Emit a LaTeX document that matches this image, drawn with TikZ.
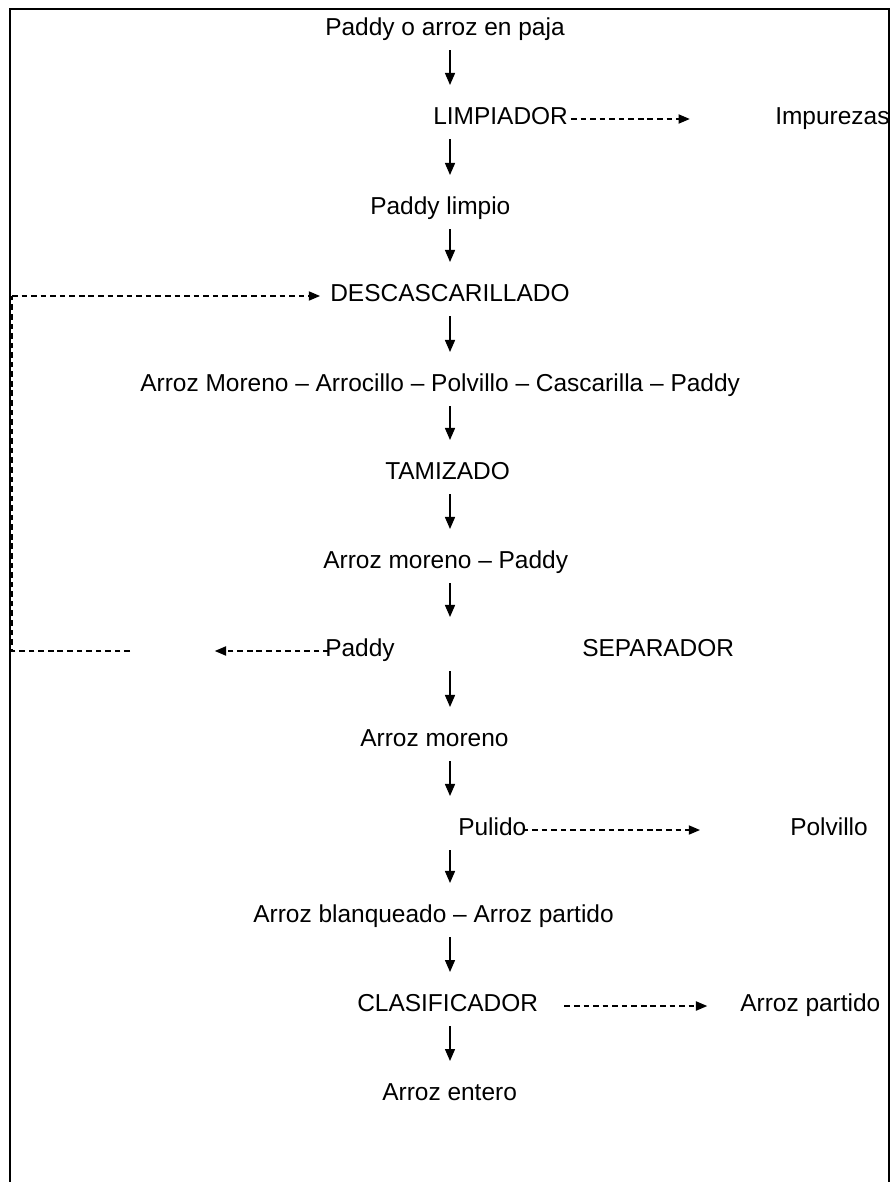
\documentclass[tikz,border=0pt]{standalone}
\usepackage{fontspec}
\setmainfont{Liberation Sans}
\usetikzlibrary{
		arrows.meta,
		positioning
	}
\tikzset{
		>={Triangle[length=3mm,width=2.5mm]},
		paso/.style={inner sep=0pt, anchor=west, text height=0.72em, text depth=0pt,
			font=\fontsize{17.4}{20}\selectfont},
		baja/.style={->, line width=1pt, shorten <=5mm, shorten >=8.5mm},
		retorno/.style={line width=0.9pt, dash pattern=on 4pt off 2.8pt},
		punta/.style={-{Triangle[length=2.8mm,width=2.3mm]}}
	}

\begin{document}
\begin{tikzpicture}[x=0.025cm, y=-0.025cm]
          \useasboundingbox (0,0) rectangle (895,1182);
          \draw[line width=1.6pt] (10,1182) |- (889,9) -- (889,1182);

          \coordinate (E) at (450,0);
          \coordinate (R1) at (130,651);
          \coordinate (R2) at (12,651);
          \coordinate (R3) at (12,296);

          \node[paso] (P1) at (325,30) {Paddy o arroz en paja};
          \node[paso] (P2) at (433,119) {LIMPIADOR};
          \node[paso] (I) at (775,119) {Impurezas};
          \node[paso] (P3) at (370,209) {Paddy limpio};
          \node[paso] (P4) at (330,296) {DESCASCARILLADO};
          \node[paso] (P5) at (140,386) {Arroz Moreno – Arrocillo – Polvillo – Cascarilla – Paddy};
          \node[paso] (P6) at (385,474) {TAMIZADO};
          \node[paso] (P7) at (323,563) {Arroz moreno – Paddy};
          \node[paso] (Pd) at (325,651) {Paddy};
          \node[paso] (S) at (582,651) {SEPARADOR};
          \node[paso] (P8) at (360,741) {Arroz moreno};
          \node[paso] (P9) at (458,830) {Pulido};
          \node[paso] (Po) at (790,830) {Polvillo};
          \node[paso] (P10) at (253,917) {Arroz blanqueado – Arroz partido};
          \node[paso] (P11) at (357,1006) {CLASIFICADOR};
          \node[paso] (Ap) at (740,1006) {Arroz partido};
          \node[paso] (P12) at (382,1095) {Arroz entero};

          \draw[baja] (P1 -| E) -- (P2 -| E);
          \draw[baja] (P2 -| E) -- (P3 -| E);
          \draw[baja] (P3 -| E) -- (P4 -| E);
          \draw[baja] (P4 -| E) -- (P5 -| E);
          \draw[baja] (P5 -| E) -- (P6 -| E);
          \draw[baja] (P6 -| E) -- (P7 -| E);
          \draw[baja] (P7 -| E) -- (S -| E);
          \draw[baja] (S -| E) -- (P8 -| E);
          \draw[baja] (P8 -| E) -- (P9 -| E);
          \draw[baja] (P9 -| E) -- (P10 -| E);
          \draw[baja] (P10 -| E) -- (P11 -| E);
          \draw[baja] (P11 -| E) -- (P12 -| E);

          % salidas laterales
          \draw[retorno, punta, shorten <=0.7mm, shorten >=21.3mm] (P2.east) -- (I.west);
          \draw[retorno, punta, shorten <=-1mm, shorten >=22.5mm] (P9.east) -- (Po.west);
          \draw[retorno, punta, shorten <=6.5mm, shorten >=8.2mm] (P11.east) -- (Ap.west);

          % retorno del paddy
          \draw[retorno, punta, shorten <=-1mm, shorten >=21.2mm] (Pd.west) -- (R1);
          \draw[retorno] (R1) -- (R2) -- (R3);
          \draw[retorno, punta, shorten >=2.5mm] (R3) -- (P4.west);

          \end{tikzpicture}
\end{document}
